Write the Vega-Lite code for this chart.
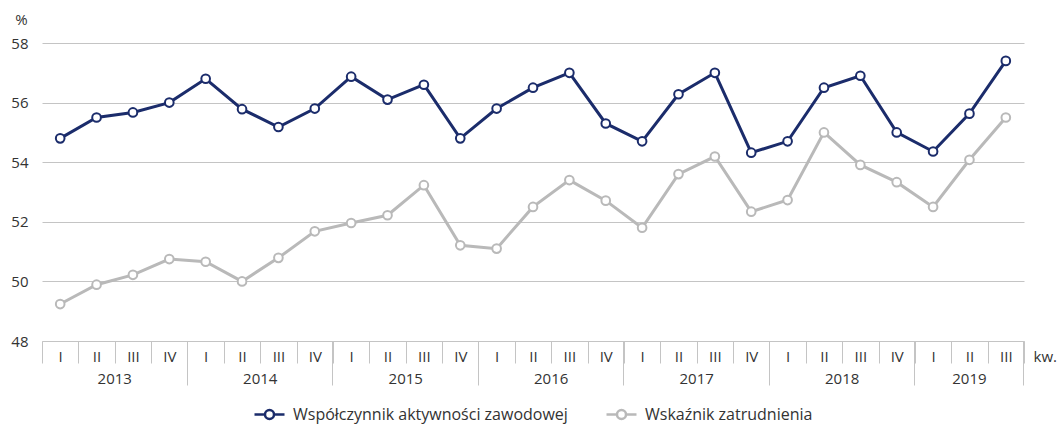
{
  "$schema": "https://vega.github.io/schema/vega-lite/v6.json",
  "width": 982,
  "height": 298,
  "autosize": {"type": "none"},
  "padding": {"left": 42, "top": 43, "right": 35, "bottom": 87},
  "background": "white",
  "config": {
    "view": {"stroke": null},
    "font": "Open Sans",
    "axis": {"labelFont": "Open Sans", "labelFontSize": 15, "labelColor": "#333333", "titleFont": "Open Sans", "titleFontSize": 15, "titleColor": "#333333", "titleFontWeight": "normal"},
    "legend": {"labelFont": "Open Sans", "labelFontSize": 16, "labelColor": "#333333"}
  },
  "data": {
    "values": [
      {"q": "2013-I", "s": "Współczynnik aktywności zawodowej", "v": 54.8},
      {"q": "2013-II", "s": "Współczynnik aktywności zawodowej", "v": 55.5},
      {"q": "2013-III", "s": "Współczynnik aktywności zawodowej", "v": 55.67},
      {"q": "2013-IV", "s": "Współczynnik aktywności zawodowej", "v": 56.0},
      {"q": "2014-I", "s": "Współczynnik aktywności zawodowej", "v": 56.8},
      {"q": "2014-II", "s": "Współczynnik aktywności zawodowej", "v": 55.78},
      {"q": "2014-III", "s": "Współczynnik aktywności zawodowej", "v": 55.18},
      {"q": "2014-IV", "s": "Współczynnik aktywności zawodowej", "v": 55.8},
      {"q": "2015-I", "s": "Współczynnik aktywności zawodowej", "v": 56.87},
      {"q": "2015-II", "s": "Współczynnik aktywności zawodowej", "v": 56.1},
      {"q": "2015-III", "s": "Współczynnik aktywności zawodowej", "v": 56.6},
      {"q": "2015-IV", "s": "Współczynnik aktywności zawodowej", "v": 54.8},
      {"q": "2016-I", "s": "Współczynnik aktywności zawodowej", "v": 55.8},
      {"q": "2016-II", "s": "Współczynnik aktywności zawodowej", "v": 56.5},
      {"q": "2016-III", "s": "Współczynnik aktywności zawodowej", "v": 57.0},
      {"q": "2016-IV", "s": "Współczynnik aktywności zawodowej", "v": 55.3},
      {"q": "2017-I", "s": "Współczynnik aktywności zawodowej", "v": 54.7},
      {"q": "2017-II", "s": "Współczynnik aktywności zawodowej", "v": 56.28},
      {"q": "2017-III", "s": "Współczynnik aktywności zawodowej", "v": 57.0},
      {"q": "2017-IV", "s": "Współczynnik aktywności zawodowej", "v": 54.32},
      {"q": "2018-I", "s": "Współczynnik aktywności zawodowej", "v": 54.7},
      {"q": "2018-II", "s": "Współczynnik aktywności zawodowej", "v": 56.5},
      {"q": "2018-III", "s": "Współczynnik aktywności zawodowej", "v": 56.9},
      {"q": "2018-IV", "s": "Współczynnik aktywności zawodowej", "v": 55.0},
      {"q": "2019-I", "s": "Współczynnik aktywności zawodowej", "v": 54.36},
      {"q": "2019-II", "s": "Współczynnik aktywności zawodowej", "v": 55.63},
      {"q": "2019-III", "s": "Współczynnik aktywności zawodowej", "v": 57.4},
      {"q": "2013-I", "s": "Wskaźnik zatrudnienia", "v": 49.24},
      {"q": "2013-II", "s": "Wskaźnik zatrudnienia", "v": 49.89},
      {"q": "2013-III", "s": "Wskaźnik zatrudnienia", "v": 50.22},
      {"q": "2013-IV", "s": "Wskaźnik zatrudnienia", "v": 50.75},
      {"q": "2014-I", "s": "Wskaźnik zatrudnienia", "v": 50.66},
      {"q": "2014-II", "s": "Wskaźnik zatrudnienia", "v": 50.0},
      {"q": "2014-III", "s": "Wskaźnik zatrudnienia", "v": 50.79},
      {"q": "2014-IV", "s": "Wskaźnik zatrudnienia", "v": 51.68},
      {"q": "2015-I", "s": "Wskaźnik zatrudnienia", "v": 51.96},
      {"q": "2015-II", "s": "Wskaźnik zatrudnienia", "v": 52.22},
      {"q": "2015-III", "s": "Wskaźnik zatrudnienia", "v": 53.23},
      {"q": "2015-IV", "s": "Wskaźnik zatrudnienia", "v": 51.21},
      {"q": "2016-I", "s": "Wskaźnik zatrudnienia", "v": 51.1},
      {"q": "2016-II", "s": "Wskaźnik zatrudnienia", "v": 52.5},
      {"q": "2016-III", "s": "Wskaźnik zatrudnienia", "v": 53.4},
      {"q": "2016-IV", "s": "Wskaźnik zatrudnienia", "v": 52.71},
      {"q": "2017-I", "s": "Wskaźnik zatrudnienia", "v": 51.8},
      {"q": "2017-II", "s": "Wskaźnik zatrudnienia", "v": 53.6},
      {"q": "2017-III", "s": "Wskaźnik zatrudnienia", "v": 54.19},
      {"q": "2017-IV", "s": "Wskaźnik zatrudnienia", "v": 52.34},
      {"q": "2018-I", "s": "Wskaźnik zatrudnienia", "v": 52.73},
      {"q": "2018-II", "s": "Wskaźnik zatrudnienia", "v": 55.0},
      {"q": "2018-III", "s": "Wskaźnik zatrudnienia", "v": 53.91},
      {"q": "2018-IV", "s": "Wskaźnik zatrudnienia", "v": 53.33},
      {"q": "2019-I", "s": "Wskaźnik zatrudnienia", "v": 52.5},
      {"q": "2019-II", "s": "Wskaźnik zatrudnienia", "v": 54.08},
      {"q": "2019-III", "s": "Wskaźnik zatrudnienia", "v": 55.5}
    ]
  },
  "layer": [
    {
      "mark": {"type": "line", "strokeWidth": 3, "point": {"filled": false, "fill": "white", "size": 75, "strokeWidth": 2, "opacity": 1}},
      "encoding": {
        "x": {
          "field": "q", "type": "ordinal", "sort": null,
          "scale": {"type": "band", "paddingInner": 0, "paddingOuter": 0},
          "axis": {
            "orient": "bottom", "tickBand": "extent", "tickSize": 22, "tickColor": "#c4c4c4", "tickWidth": 1,
            "domainColor": "#c4c4c4", "domainWidth": 1, "labelAngle": 0, "labelPadding": -14,
            "labelExpr": "split(datum.label, '-')[1]",
            "title": "kw.", "titleAnchor": "start", "titleAlign": "left", "titleBaseline": "middle", "titleX": 991, "titleY": 15,
            "grid": false
          }
        },
        "y": {
          "field": "v", "type": "quantitative",
          "scale": {"domain": [48, 58], "nice": false, "zero": false},
          "axis": {
            "values": [48, 50, 52, 54, 56, 58], "domain": false, "ticks": false, "labelPadding": 14,
            "gridColor": "#c4c4c4", "gridWidth": 1,
            "title": "%", "titleAngle": 0, "titleAlign": "center", "titleBaseline": "middle", "titleX": -21, "titleY": -24
          }
        },
        "color": {
          "field": "s", "type": "nominal",
          "scale": {"domain": ["Współczynnik aktywności zawodowej", "Wskaźnik zatrudnienia"], "range": ["#1b2c6b", "#b9b9b9"]},
          "legend": {
            "title": null, "orient": "none", "direction": "horizontal", "legendX": 216, "legendY": 360,
            "symbolType": "M-1.5,0L-0.45,0M0.45,0L1.5,0M-0.45,0A0.45,0.45,0,1,1,0.45,0A0.45,0.45,0,1,1,-0.45,0",
            "symbolSize": 400, "symbolStrokeWidth": 2.5, "symbolFillColor": "white",
            "labelOffset": 12, "columnPadding": 33, "labelLimit": 500
          }
        }
      }
    },
    {
      "mark": {"type": "point", "opacity": 0},
      "encoding": {
        "x": {
          "field": "q", "type": "ordinal", "sort": null,
          "axis": {
            "orient": "bottom", "values": ["2013-II", "2014-II", "2015-II", "2016-II", "2017-II", "2018-II", "2019-II"],
            "ticks": false, "domain": false, "grid": false,
            "labelAngle": 0, "labelPadding": 30,
            "labelOffset": {"condition": {"test": "datum.value == '2019-II'", "value": 0}, "value": 18.19},
            "labelExpr": "split(datum.label, '-')[0]",
            "title": null
          }
        }
      }
    },
    {
      "mark": {"type": "point", "opacity": 0},
      "encoding": {
        "x": {
          "field": "q", "type": "ordinal", "sort": null,
          "axis": {
            "orient": "bottom", "values": ["2013-I", "2014-I", "2015-I", "2016-I", "2017-I", "2018-I", "2019-I"],
            "bandPosition": 0, "tickSize": 44, "tickColor": "#c4c4c4", "tickWidth": 1,
            "domain": false, "grid": false, "labels": false, "title": null
          }
        }
      }
    },
    {
      "mark": {"type": "point", "opacity": 0},
      "encoding": {
        "x": {
          "field": "q", "type": "ordinal", "sort": null,
          "axis": {
            "orient": "bottom", "values": ["2019-III"], "bandPosition": 1, "tickSize": 44, "tickColor": "#c4c4c4", "tickWidth": 1,
            "domain": false, "grid": false, "labels": false, "title": null
          }
        }
      }
    }
  ],
  "resolve": {"axis": {"x": "independent"}}
}
